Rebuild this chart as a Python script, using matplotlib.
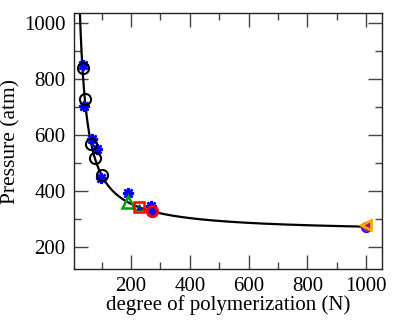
import numpy as np
import matplotlib
matplotlib.use("Agg")
import matplotlib.pyplot as plt
from matplotlib.ticker import MultipleLocator

plt.rcParams['font.family'] = ['Liberation Serif', 'DejaVu Serif']

# Black open circles (simulation)
circ_N = [36, 44, 63, 78, 100]
circ_P = [838, 727, 567, 516, 456]

# Blue asterisks
ast_N = [36, 41, 66, 83, 98, 191, 268]
ast_P = [850, 704, 584, 548, 445, 393, 345]

# Green open triangle
tri_N = [191]
tri_P = [359]

# Red open square with blue small triangle
sq_N = [227]
sq_P = [341]

# Red circle with blue/purple fill
rc_N = [270]
rc_P = [329]

# Points at N = 1000
orange_N = [1000]
orange_P = [278]
purple_N = [1000]
purple_P = [272]
blue_N = [1000]
blue_P = [270]

# fitted curve P = a + b / N
fit_a = 251.0
fit_b = 20450.0
fit_Nmin, fit_Nmax = 25, 1000

fig = plt.figure(figsize=(4.05, 3.21), dpi=100)
ax = fig.add_axes([74/405, 1-269/321, (382-74)/405, (269-13)/321])

Nc = np.linspace(fit_Nmin, fit_Nmax, 2000)
ax.plot(Nc, fit_a + fit_b / Nc, color='black', lw=1.6, zorder=2)

ax.plot(ast_N, ast_P, ls='none', marker=(8, 2, 0), ms=8, mec='blue', mew=1.8, color='blue', zorder=3)
ax.plot(circ_N, circ_P, ls='none', marker='o', ms=8, mfc='none', mec='black', mew=1.5, zorder=4)
ax.plot(tri_N, tri_P, ls='none', marker='^', ms=8, mfc='none', mec='#00a000', mew=1.8, zorder=4)
ax.plot(sq_N, sq_P, ls='none', marker='s', ms=7.5, mfc='none', mec='red', mew=1.8, zorder=4)
ax.plot(sq_N, sq_P, ls='none', marker='^', ms=4, mfc='blue', mec='#006000', mew=0.8, zorder=5)
ax.plot(rc_N, rc_P, ls='none', marker='o', ms=8, mfc='#9a1070', mec='red', mew=1.6, zorder=4)
ax.plot(rc_N, rc_P, ls='none', marker='o', ms=3.5, mfc='blue', mec='blue', zorder=5)
ax.plot(blue_N, blue_P, ls='none', marker='o', ms=7, mfc='blue', mec='blue', zorder=4)
ax.plot(purple_N, purple_P, ls='none', marker='o', ms=6, mfc='#8020a0', mec='#8020a0', zorder=5)
ax.plot(orange_N, orange_P, ls='none', marker='<', ms=7.5, mfc='none', mec='orange', mew=2, zorder=6)

ax.set_xlim(6, 1054)
ax.set_ylim(120, 1036)
ax.xaxis.set_minor_locator(MultipleLocator(100))
ax.yaxis.set_major_locator(MultipleLocator(200))
ax.yaxis.set_minor_locator(MultipleLocator(100))
ax.set_xticks([200, 400, 600, 800, 1000])
ax.set_yticks([200, 400, 600, 800, 1000])
ax.tick_params(which='both', direction='in', top=True, right=True, labelsize=15, width=1, color='#444444')
ax.tick_params(which='major', length=10, pad=6)
ax.tick_params(axis='x', which='major', pad=6)
ax.tick_params(which='minor', length=5)
for s in ax.spines.values():
    s.set_linewidth(1.0)
    s.set_color('#222222')

ax.set_xlabel('degree of polymerization (N)', fontsize=15, labelpad=-1)
ax.set_ylabel('Pressure (atm)', fontsize=15.5, labelpad=3)

fig.savefig('out.png', dpi=100)
